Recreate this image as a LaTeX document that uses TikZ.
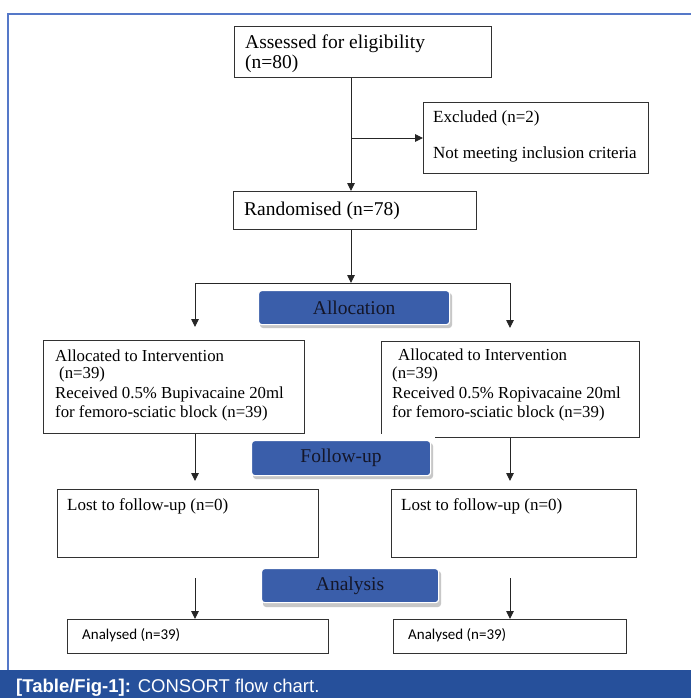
\documentclass[tikz,border=0pt]{standalone}
\usepackage{fontspec}
\setmainfont{Liberation Serif}
\newfontfamily\carl{Carlito}
\newfontfamily\capf{Liberation Sans}
\usetikzlibrary{arrows.meta,calc}
\definecolor{bluebox}{RGB}{58,94,170}
\definecolor{capbar}{RGB}{38,80,155}
\definecolor{frameblue}{RGB}{85,120,200}
\definecolor{boxline}{RGB}{50,50,50}
\definecolor{stagetext}{RGB}{20,22,40}
\begin{document}
\begin{tikzpicture}[x=1pt,y=-1pt,
  box/.style={draw=boxline, line width=1pt, fill=white, inner sep=0pt, anchor=north west},
  txt/.style={anchor=base west, inner sep=0pt, text=black},
  bigt/.style={txt, font=\fontsize{19.5}{22}\selectfont},
  midt/.style={txt, font=\fontsize{17}{20}\selectfont},
  smt/.style={txt, font=\fontsize{16.8}{19}\selectfont},
  sanst/.style={txt, font=\carl\fontsize{15}{18}\selectfont},
  stage/.style={fill=bluebox, draw=white, line width=1.2pt, rounded corners=3pt, inner sep=0pt, anchor=north west, font=\fontsize{19.5}{22}\selectfont, text=stagetext},
  shad/.style={fill=black!22, rounded corners=3pt, draw=none},
  arr/.style={draw=black!85, line width=0.9pt, -{Triangle[length=8pt,width=7.5pt]}},
  ln/.style={draw=black!85, line width=0.9pt}]

\useasboundingbox (0,0) rectangle (691,698);
\fill[white] (0,0) rectangle (691,698);
% frame and caption bar
\draw[frameblue, line width=1.5pt] (8,670) -- (8,14) -- (691,14);
\fill[capbar] (0,670) rectangle (691,698);
\node[anchor=base west, inner sep=0pt, text=white, font=\capf\fontsize{18.5}{21}\selectfont] (caption) at (16,692) {\textbf{[Table/Fig-1]:} CONSORT flow chart.};

% boxes
\node[box, minimum width=257pt, minimum height=51pt] (assess) at (234,26) {};
\node[bigt] (t1) at (245,49) {Assessed for eligibility};
\node[bigt] (t2) at (245,69) {(n=80)};

\node[box, minimum width=225pt, minimum height=71pt] (excl) at (423,102) {};
\node[midt] (t3) at (433,123) {Excluded (n=2)};
\node[midt] (t4) at (433,158) {Not meeting inclusion criteria};

\node[box, minimum width=243pt, minimum height=38pt] (rand) at (233,191) {};
\node[bigt] (t5) at (244,215) {Randomised (n=78)};

% allocation stage
\fill[shad] (260,293) rectangle (452,328);
\node[stage, minimum width=191pt, minimum height=34pt] (alloc) at (258,290) {Allocation};

\node[box, minimum width=261pt, minimum height=93pt] (allocL) at (43,340) {};
\node[smt] (t6) at (55,361) {Allocated to Intervention};
\node[smt] (t7) at (59,378) {(n=39)};
\node[smt] (t8) at (55,398) {Received 0.5\% Bupivacaine 20ml};
\node[smt] (t9) at (55,417) {for femoro-sciatic block (n=39)};

\node[box, minimum width=258pt, minimum height=96pt] (allocR) at (381,341) {};
\node[smt] (t10) at (398,360) {Allocated to Intervention};
\node[smt] (t11) at (392,378) {(n=39)};
\node[smt] (t12) at (392,398) {Received 0.5\% Ropivacaine 20ml};
\node[smt] (t13) at (392,417) {for femoro-sciatic block (n=39)};

% follow-up stage
\fill[white] (246,434) rectangle (435,481);
\fill[shad] (253,443) rectangle (433,479);
\node[stage, minimum width=179pt, minimum height=35pt] (follow) at (251,440) {Follow-up};

\node[box, minimum width=261pt, minimum height=68pt] (lostL) at (57,489) {};
\node[midt] (t14) at (67,510) {Lost to follow-up (n=0)};
\node[box, minimum width=245pt, minimum height=68pt] (lostR) at (391,489) {};
\node[midt] (t15) at (401,510) {Lost to follow-up (n=0)};

% analysis stage
\fill[shad] (263,571) rectangle (441,607);
\node[stage, minimum width=177pt, minimum height=34pt] (analysis) at (261,568) {Analysis};

\node[box, minimum width=261pt, minimum height=34pt] (anlL) at (67,619) {};
\node[sanst] (t16) at (82,639) {Analysed (n=39)};
\node[box, minimum width=233pt, minimum height=34pt] (anlR) at (393,619) {};
\node[sanst] (t17) at (408,639) {Analysed (n=39)};

% connectors
\coordinate (spine) at (351,0);
\coordinate (split) at (351,283);
\coordinate (splitL) at (195,283);
\coordinate (splitR) at (510,283);
\coordinate (anaL) at (195,578);
\coordinate (anaR) at (510,578);

\draw[arr] (assess.south -| spine) -- (rand.north -| spine);
\draw[arr] (spine |- excl.west) -- (excl.west);
\draw[arr] (rand.south -| spine) -- (split);
\draw[ln] (splitL) -- (splitR);
\draw[arr, shorten >=13pt] (splitL) -- (allocL.north -| splitL);
\draw[arr, shorten >=13pt] (splitR) -- (allocR.north -| splitR);
\draw[arr, shorten >=8pt] (allocL.south -| splitL) -- (lostL.north -| splitL);
\draw[arr, shorten >=8pt] (allocR.south -| splitR) -- (lostR.north -| splitR);
\draw[arr] (anaL) -- (anlL.north -| anaL);
\draw[arr] (anaR) -- (anlR.north -| anaR);
\end{tikzpicture}
\end{document}
